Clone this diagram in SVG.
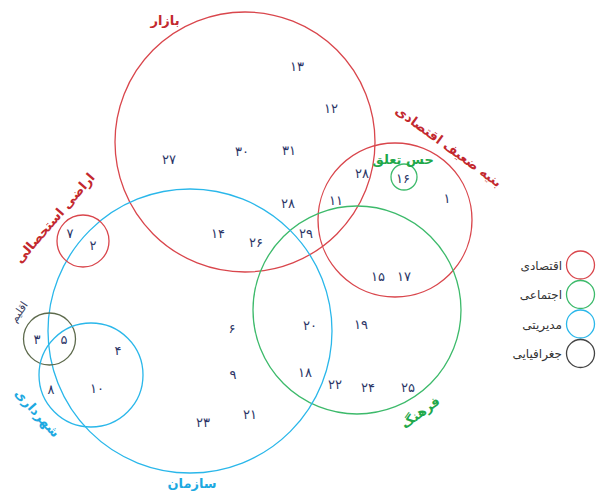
<svg xmlns="http://www.w3.org/2000/svg" width="599" height="496" viewBox="0 0 599 496">
<style>
.c{fill:none;stroke-width:1.3}
.red{stroke:#d9464c}
.grn{stroke:#3dba6b}
.cyn{stroke:#2ab7ea}
.olv{stroke:#5d6a4c}
.blk{stroke:#444}
text{font-family:"DejaVu Sans",sans-serif;text-anchor:middle}
.n{font-size:13px;fill:#2c3667}
.lb{font-size:13px;font-weight:bold}
.lr{fill:#c3282e}
.lg{fill:#1fa84a}
.lc{fill:#1ea9e1}
.lg2{font-size:12px;fill:#333;text-anchor:end}
</style>
<rect width="599" height="496" fill="#fff"/>
<g id="connectors"></g>
<g id="bazar">
<circle class="c red" cx="245" cy="142" r="130"/>
<text class="lb lr" x="165" y="25">بازار</text>
</g>
<g id="bonye">
<circle class="c red" cx="395" cy="220" r="77"/>
<text class="lb lr" transform="translate(446,150) rotate(36)" x="0" y="0">بنیه ضعیف اقتصادی</text>
</g>
<g id="hes">
<circle class="c grn" cx="404" cy="177" r="13"/>
<text class="lb lg" x="403" y="164">حس تعلق</text>
</g>
<g id="farhang">
<circle class="c grn" cx="357" cy="310" r="104"/>
<text class="lb lg" transform="translate(423,416) rotate(-36)" x="0" y="0">فرهنگ</text>
</g>
<g id="sazman">
<circle class="c cyn" cx="190" cy="331" r="142"/>
<text class="lb lc" x="192" y="488">سازمان</text>
</g>
<g id="arazi">
<circle class="c red" cx="83" cy="241" r="26"/>
<text class="lb lr" transform="translate(58,221) rotate(-49)" x="0" y="0">اراضی استحصالی</text>
</g>
<g id="eghlim">
<circle class="c olv" cx="49.5" cy="339" r="26"/>
<text transform="translate(22,314) rotate(-56)" x="0" y="0" style="font-size:11px;fill:#3c4466">اقلیم</text>
</g>
<g id="shahrdari">
<circle class="c cyn" cx="91" cy="375" r="52"/>
<text class="lb lc" transform="translate(34,416) rotate(48)" x="0" y="0">شهرداری</text>
</g>
<g id="numbers">
<text class="n" x="297" y="71">۱۳</text>
<text class="n" x="331" y="113">۱۲</text>
<text class="n" x="169" y="164">۲۷</text>
<text class="n" x="242" y="156">۳۰</text>
<text class="n" x="289" y="155">۳۱</text>
<text class="n" x="288" y="208">۲۸</text>
<text class="n" x="218" y="238">۱۴</text>
<text class="n" x="256" y="247">۲۶</text>
<text class="n" x="306" y="238">۲۹</text>
<text class="n" x="362" y="178">۲۸</text>
<text class="n" x="336" y="205">۱۱</text>
<text class="n" x="403" y="183">۱۶</text>
<text class="n" x="447" y="203">۱</text>
<text class="n" x="378" y="281">۱۵</text>
<text class="n" x="404" y="281">۱۷</text>
<text class="n" x="70" y="238">۷</text>
<text class="n" x="93" y="250">۲</text>
<text class="n" x="37" y="344">۳</text>
<text class="n" x="64" y="344">۵</text>
<text class="n" x="118" y="355">۴</text>
<text class="n" x="51" y="394">۸</text>
<text class="n" x="97" y="393">۱۰</text>
<text class="n" x="232" y="333">۶</text>
<text class="n" x="310" y="330">۲۰</text>
<text class="n" x="361" y="329">۱۹</text>
<text class="n" x="233" y="379">۹</text>
<text class="n" x="305" y="377">۱۸</text>
<text class="n" x="335" y="389">۲۲</text>
<text class="n" x="368" y="392">۲۴</text>
<text class="n" x="408" y="392">۲۵</text>
<text class="n" x="250" y="419">۲۱</text>
<text class="n" x="203" y="427">۲۳</text>
</g>
<g id="legend">
<circle class="c red" cx="580.5" cy="265" r="14"/>
<circle class="c grn" cx="580.5" cy="294.5" r="14"/>
<circle class="c cyn" cx="580.5" cy="324" r="14"/>
<circle class="c blk" cx="580.5" cy="353.5" r="14"/>
<text class="lg2" x="562" y="270">اقتصادی</text>
<text class="lg2" x="562" y="299">اجتماعی</text>
<text class="lg2" x="562" y="329">مدیریتی</text>
<text class="lg2" x="562" y="358">جغرافیایی</text>
</g>
</svg>
